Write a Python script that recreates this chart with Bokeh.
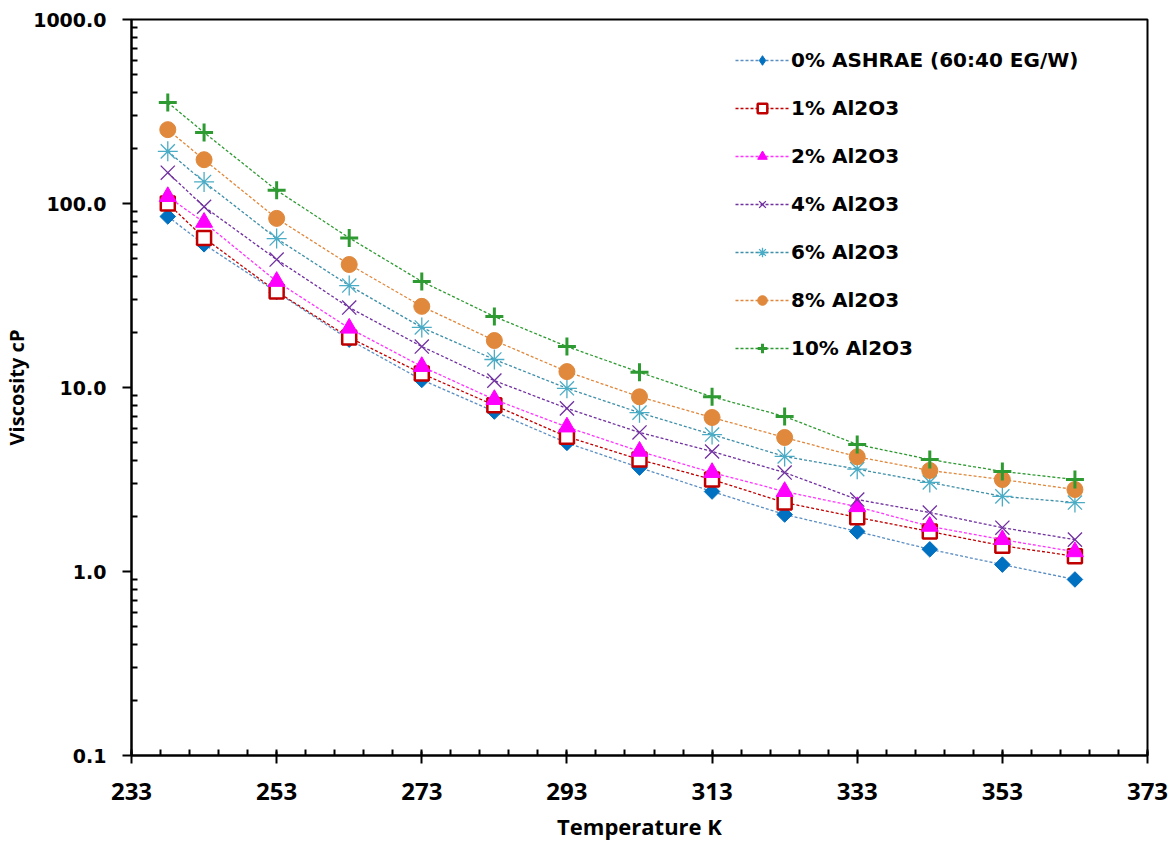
import math
from bokeh.plotting import figure
from bokeh.models import FixedTicker, PrintfTickFormatter, Legend, LegendItem, Range1d
from bokeh.embed import file_html
from bokeh.resources import INLINE

temperature = [238, 243, 253, 263, 273, 283, 293, 303, 313, 323, 333, 343, 353, 363]

visc_0 = [85, 60, 33, 18.2, 11.0, 7.4, 5.0, 3.67, 2.72, 2.04, 1.65, 1.32, 1.09, 0.905]
visc_1 = [100, 65, 33.2, 18.7, 11.9, 8.0, 5.4, 4.06, 3.16, 2.37, 1.97, 1.65, 1.38, 1.21]
visc_2 = [109, 79, 37.7, 21.0, 13.0, 8.6, 6.1, 4.5, 3.45, 2.72, 2.25, 1.76, 1.49, 1.28]
visc_4 = [147, 96, 49.6, 27.2, 16.7, 10.9, 7.7, 5.7, 4.49, 3.45, 2.46, 2.09, 1.73, 1.49]
visc_6 = [192, 131, 64.5, 35.8, 21.2, 14.2, 9.9, 7.3, 5.55, 4.22, 3.6, 3.05, 2.56, 2.37]
visc_8 = [252, 173, 83, 46.6, 27.6, 18.0, 12.2, 8.9, 6.87, 5.35, 4.2, 3.54, 3.16, 2.79]
visc_10 = [354, 243, 118, 65, 37.7, 24.3, 16.7, 12.1, 8.9, 6.96, 4.9, 4.06, 3.5, 3.16]

series_labels = ["0% ASHRAE (60:40 EG/W)", "1% Al2O3", "2% Al2O3", "4% Al2O3",
                 "6% Al2O3", "8% Al2O3", "10% Al2O3"]

x_ticks = [233, 253, 273, 293, 313, 333, 353, 373]
x_minor = list(range(233, 374, 4))
y_ticks = [0.1, 1, 10, 100, 1000]
y_minor = [m * 10.0 ** e for e in range(-1, 3) for m in range(2, 10)]

p = figure(width=1175, height=844, y_axis_type="log",
           x_range=Range1d(233, 373), y_range=Range1d(0.1, 1000),
           output_backend="svg", toolbar_location=None,
           min_border_left=129, min_border_right=28, min_border_top=19, min_border_bottom=89)
p.xgrid.visible = False
p.ygrid.visible = False
p.outline_line_color = "black"
p.outline_line_width = 2
p.background_fill_color = "white"

styles = [
    dict(marker="square", angle=math.pi / 4, size=11, fill_color="#0070C0", line_color="#0070C0", lc="#5B8EC2"),
    dict(marker="square", angle=0, size=14, fill_color="white", line_color="#C00000", line_width=2.5, lc="#C00000"),
    dict(marker="triangle", angle=0, size=17, fill_color="#FF00FF", line_color="#FF00FF", lc="#FF33FF"),
    dict(marker="x", angle=0, size=20, fill_color=None, line_color="#7030A0", line_width=1.3, lc="#7030A0"),
    dict(marker="asterisk", angle=0, size=20, fill_color=None, line_color="#4BACC6", line_width=1.3, lc="#3E8FA8"),
    dict(marker="circle", angle=0, size=16, fill_color="#E0883C", line_color="#E0883C", lc="#E0883C"),
    dict(marker="cross", angle=0, size=18, fill_color=None, line_color="#2E9A32", line_width=3, lc="#2E9A32"),
]
all_series = [visc_0, visc_1, visc_2, visc_4, visc_6, visc_8, visc_10]

items = []
for i, (lab, ys, st) in enumerate(zip(series_labels, all_series, styles)):
    lr = p.line(temperature, ys, line_color=st["lc"], line_width=1.3, line_dash="3 2")
    sr = p.scatter(temperature, ys, marker=st["marker"], size=st["size"], angle=st["angle"],
                   fill_color=st["fill_color"], line_color=st["line_color"],
                   line_width=st.get("line_width", 1))
    if i == 0:
        # legend-only swatch: diamond shape (the plotted diamonds are rotated squares)
        sw = p.scatter(x=[float("nan")], y=[float("nan")], marker="diamond", size=14,
                       fill_color=st["fill_color"], line_color=st["line_color"])
        items.append(LegendItem(label=lab, renderers=[lr, sw]))
    else:
        items.append(LegendItem(label=lab, renderers=[lr, sr]))

legend = Legend(items=items, location=(604, 395))
legend.border_line_color = None
legend.background_fill_alpha = 0
legend.padding = 0
legend.margin = 0
legend.glyph_width = 54
legend.glyph_height = 24
legend.label_height = 24
legend.spacing = 24
legend.label_standoff = 2
legend.label_text_font = "DejaVu Sans"
legend.label_text_font_style = "bold"
legend.label_text_font_size = "20px"
legend.label_text_color = "black"
p.add_layout(legend)

xa = p.xaxis[0]
xa.ticker = FixedTicker(ticks=x_ticks, minor_ticks=x_minor)
xa.axis_label = "Temperature K"
xa.axis_line_width = 2
xa.axis_line_color = "black"
xa.major_tick_line_width = 2
xa.minor_tick_line_width = 2
xa.major_tick_out = 8
xa.major_tick_in = 4
xa.minor_tick_in = 6
xa.minor_tick_out = 0
xa.major_label_text_font = "Open Sans"
xa.major_label_text_font_style = "bold"
xa.major_label_text_font_size = "24px"
xa.major_label_text_color = "black"
xa.major_label_standoff = 19
xa.axis_label_text_font = "Open Sans"
xa.axis_label_text_font_style = "bold"
xa.axis_label_text_font_size = "22px"
xa.axis_label_text_color = "black"
xa.axis_label_standoff = 8

ya = p.yaxis[0]
ya.ticker = FixedTicker(ticks=y_ticks, minor_ticks=y_minor)
ya.formatter = PrintfTickFormatter(format="%.1f")
ya.axis_label = "Viscosity cP"
ya.axis_line_width = 2
ya.axis_line_color = "black"
ya.major_tick_line_width = 2
ya.minor_tick_line_width = 2
ya.major_tick_out = 9
ya.major_tick_in = 0
ya.minor_tick_in = 6
ya.minor_tick_out = 0
ya.major_label_text_font = "DejaVu Sans"
ya.major_label_text_font_style = "bold"
ya.major_label_text_font_size = "19px"
ya.major_label_text_color = "black"
ya.major_label_standoff = 16
ya.axis_label_text_font = "Open Sans"
ya.axis_label_text_font_style = "bold"
ya.axis_label_text_font_size = "20px"
ya.axis_label_text_color = "black"
ya.axis_label_standoff = 0

open("out.html", "w").write(file_html(p, INLINE))
